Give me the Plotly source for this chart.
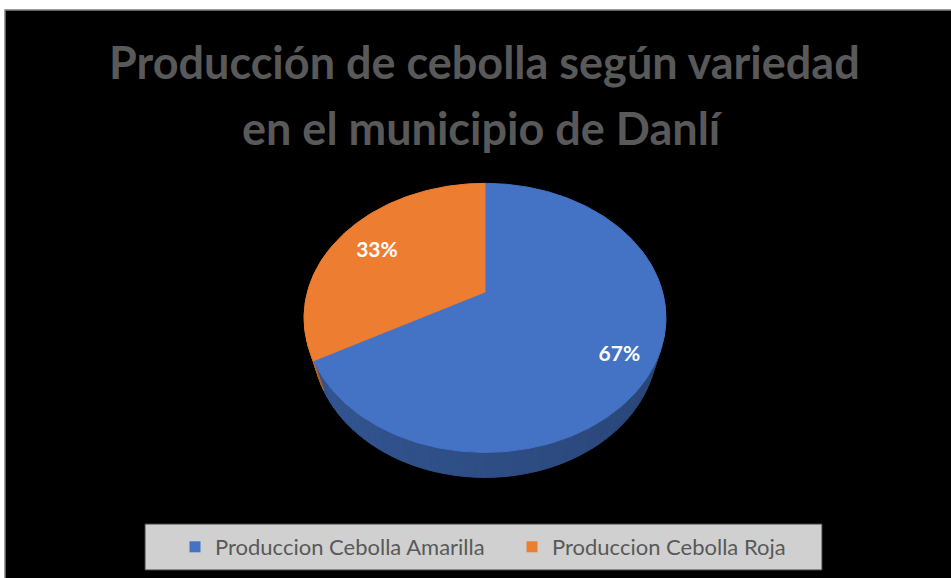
import math
import plotly.graph_objects as go

# ---------------- data ----------------
categories = ["Produccion Cebolla Amarilla", "Produccion Cebolla Roja"]
values = [67, 33]
slice_colors = ["#4472C4", "#ED7D31"]
title_lines = ["Producción de cebolla según variedad", "en el municipio de Danlí"]

# ---------------- geometry / style (3-D pie projection) ----------------
W, H = 951, 578
CX, CY = 485, 292          # screen position of the pie centre
FOC = 630.0                # focal length (px)
DIST = 3.55                # camera distance (in pie radii)
SIN_P, COS_P = 0.73, 0.683 # camera elevation
THICK = 0.243              # pie thickness (in radii)


def proj(a_deg, r=1.0, u=0.0):
    a = math.radians(a_deg)
    x = r * math.sin(a)
    z = r * math.cos(a)
    yc = u * COS_P + z * SIN_P
    depth = DIST + z * COS_P - u * SIN_P
    return CX + FOC * x / depth, CY - FOC * yc / depth


def shade(hexcol, f):
    h = hexcol.lstrip("#")
    r, g, b = (int(h[i:i + 2], 16) for i in (0, 2, 4))
    return "rgb(%d,%d,%d)" % (round(r * f), round(g * f), round(b * f))


total = float(sum(values))
bounds = [0.0]
for v in values:
    bounds.append(bounds[-1] + 360.0 * v / total)


def owner(a):
    a = a % 360
    for i in range(len(values)):
        if bounds[i] <= a < bounds[i + 1]:
            return i
    return len(values) - 1


fig = go.Figure()

# side wall (front half)
step = 2.5
a = 70.0
while a < 290.0:
    a2 = a + step
    p1 = proj(a, 1, 0)
    p2 = proj(a2, 1, 0)
    p3 = proj(a2, 1, -THICK)
    p4 = proj(a, 1, -THICK)
    mid = (a + a2) / 2
    f = 0.68 - 0.07 * math.sin(math.radians(mid))
    col = shade(slice_colors[owner(mid)], f)
    fig.add_trace(go.Scatter(
        x=[p1[0], p2[0], p3[0], p4[0], p1[0]],
        y=[p1[1], p2[1], p3[1], p4[1], p1[1]],
        mode="lines", fill="toself", fillcolor=col,
        line=dict(color=col, width=1), hoverinfo="skip", showlegend=False))
    a = a2

# top face slices
for i, (cat, col) in enumerate(zip(categories, slice_colors)):
    a0, a1 = bounds[i], bounds[i + 1]
    n = max(2, int((a1 - a0) / 1.0))
    xs, ys = [CX], [CY]
    for k in range(n + 1):
        px, py = proj(a0 + (a1 - a0) * k / n)
        xs.append(px)
        ys.append(py)
    xs.append(CX)
    ys.append(CY)
    fig.add_trace(go.Scatter(
        x=xs, y=ys, mode="lines", fill="toself", fillcolor=col,
        line=dict(color=col, width=1), name=cat,
        hovertemplate=cat + ": %d%%<extra></extra>" % values[i],
        showlegend=False))

# data labels
label_radius = [0.81, 0.76]
lx, ly, lt = [], [], []
for i, v in enumerate(values):
    mid = (bounds[i] + bounds[i + 1]) / 2
    px, py = proj(mid, label_radius[i])
    lx.append(px)
    ly.append(py + 6)
    lt.append("<b>%d%%</b>" % round(100 * v / total))
fig.add_trace(go.Scatter(
    x=lx, y=ly, mode="text", text=lt,
    textfont=dict(color="white", size=21, family="Lato, sans-serif"),
    hoverinfo="skip", showlegend=False))

# legend entries
for cat, col in zip(categories, slice_colors):
    fig.add_trace(go.Scatter(
        x=[None], y=[None], mode="markers", name=cat,
        marker=dict(symbol="square", size=11, color=col)))

title_font = dict(family="Lato, sans-serif", size=45, color="#595959")

fig.update_layout(
    width=W, height=H,
    margin=dict(l=0, r=0, t=0, b=0),
    paper_bgcolor="white",
    plot_bgcolor="rgba(0,0,0,0)",
    xaxis=dict(range=[0, W], visible=False, fixedrange=True),
    yaxis=dict(range=[H, 0], visible=False, fixedrange=True),
    annotations=[
        dict(text="<b>" + title_lines[0] + "</b>", x=484, y=62, xref="x",
             yref="y", xanchor="center", yanchor="middle", showarrow=False,
             font=title_font),
        dict(text="<b>" + title_lines[1] + "</b>", x=482, y=128, xref="x",
             yref="y", xanchor="center", yanchor="middle", showarrow=False,
             font=title_font),
    ],
    shapes=[
        dict(type="rect", xref="paper", yref="paper", x0=5 / W, x1=1.02,
             y0=-0.02, y1=1 - 10 / H, fillcolor="black",
             line=dict(color="#808080", width=1.5), layer="below"),
        dict(type="rect", xref="x", yref="y", x0=145, x1=822, y0=524, y1=570,
             fillcolor="#d0d0d0", line=dict(color="#404040", width=1),
             layer="below"),
    ],
    legend=dict(
        orientation="h", x=175 / W, xanchor="left", y=1 - 547 / H,
        yanchor="middle", bgcolor="rgba(0,0,0,0)", entrywidth=292,
        font=dict(family="Lato, sans-serif", size=22, color="#595959"),
        itemclick=False, itemdoubleclick=False),
    showlegend=True,
)

fig.write_html("out.html", config={"displayModeBar": False},
               post_script="document.body.style.margin='0px';")
